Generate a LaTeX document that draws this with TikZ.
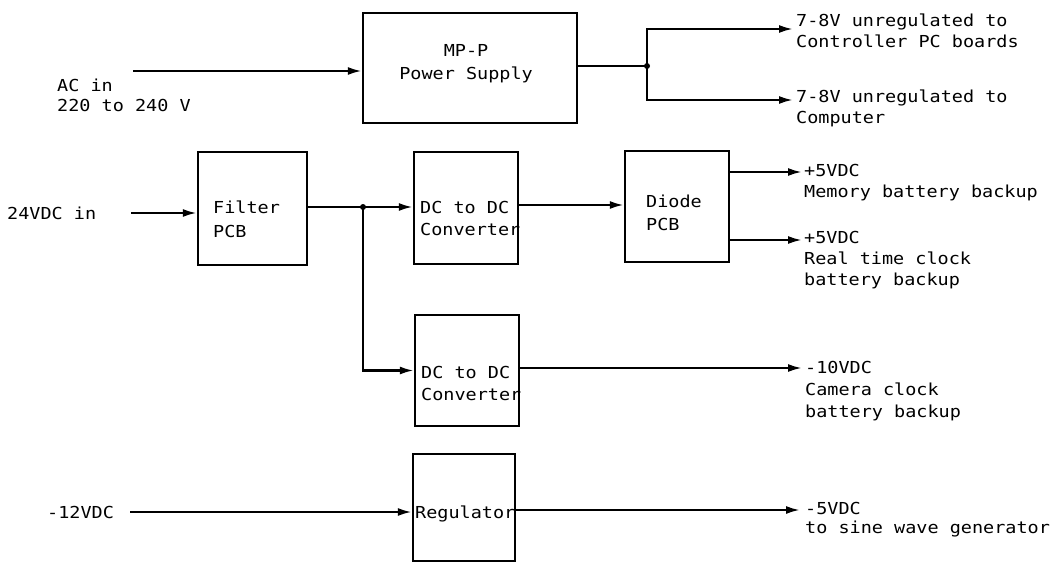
\documentclass[tikz,border=0pt]{standalone}
\usepackage{fontspec}
\newfontfamily\diag[FakeStretch=1.12]{DejaVu Sans Mono}
\usetikzlibrary{arrows.meta}
\newcommand\fs[1]{\diag\fontsize{16.5}{#1}\selectfont}
\begin{document}
\begin{tikzpicture}[x=1pt,y=-1pt,
  every node/.style={font=\fs{21}},
  blk/.style={draw,line width=2.4pt,rectangle,inner sep=0pt},
  lbl/.style={anchor=base west,inner sep=0pt,align=left},
  wire/.style={line width=2.2pt},
  arr/.style={wire,-{Latex[length=14pt,width=8pt]}},
  jdot/.style={circle,fill,inner sep=0pt,minimum size=6pt}]
\fill[white] (0,0) rectangle (1064,564);
\useasboundingbox (0,0) rectangle (1064,564);
% boxes
\node[blk,minimum width=214pt,minimum height=110pt] (ps) at (470,68) {};
\node[blk,minimum width=109pt,minimum height=113pt] (filter) at (252.5,208.5) {};
\node[blk,minimum width=104pt,minimum height=112pt] (conv1) at (466,208) {};
\node[blk,minimum width=104pt,minimum height=111pt] (diode) at (677,206.5) {};
\node[blk,minimum width=104pt,minimum height=111pt] (conv2) at (467,370.5) {};
\node[blk,minimum width=102pt,minimum height=107pt] (reg) at (464,507.5) {};
% box texts
\node[anchor=base,inner sep=0pt,align=center,font=\fs{23}] (pst) at (466,80) {MP-P\\Power Supply};
\node[lbl,font=\fs{24}] (filtert) at (213,237) {Filter\\PCB};
\node[lbl,font=\fs{22}] (conv1t) at (420,235) {DC to DC\\Converter};
\node[lbl,font=\fs{23}] (diodet) at (646,230) {Diode\\PCB};
\node[lbl,font=\fs{22}] (conv2t) at (421,400) {DC to DC\\Converter};
\node[lbl] (regt) at (415,518) {Regulator};
% coordinates
\coordinate (acin) at (133,71);
\coordinate (j1) at (647,66);
\coordinate (o1) at (793,29);
\coordinate (o2) at (793,100);
\coordinate (in24) at (131,213);
\coordinate (j2) at (363,207);
\coordinate (o3) at (802,172);
\coordinate (o4) at (802,240);
\coordinate (o5) at (802,368);
\coordinate (m12) at (130,512);
\coordinate (o6) at (800,510);
% labels
\node[lbl,font=\fs{20}] (lac) at (57,112) {AC in\\220 to 240 V};
\node[lbl] (l1) at (796,48) {7-8V unregulated to\\Controller PC boards};
\node[lbl] (l2) at (796,124) {7-8V unregulated to\\Computer};
\node[lbl] (l24) at (7,219) {24VDC in};
\node[lbl] (l3) at (804,197) {+5VDC\\Memory battery backup};
\node[lbl] (l4) at (804,285) {+5VDC\\Real time clock\\battery backup};
\node[lbl,font=\fs{22}] (l5) at (805,417) {-10VDC\\Camera clock\\battery backup};
\node[lbl] (l12) at (47,518) {-12VDC};
\node[lbl,font=\fs{18.5}] (l6) at (805,533) {-5VDC\\to sine wave generator};
% connectors
\draw[arr] (acin) -- (acin -| ps.west);
\draw[wire] (ps.east |- j1) -- (j1);
\draw[arr] (j1) |- (o1);
\draw[arr] (j1) |- (o2);
\node[jdot] (d1) at (j1) {};
\draw[arr] (in24) -- (in24 -| filter.west);
\draw[wire] (filter.east |- j2) -- (j2);
\draw[arr] (j2) -- (j2 -| conv1.west);
\draw[arr] (j2) |- (conv2.west);
\node[jdot] (d2) at (j2) {};
\draw[arr] (conv1.east |- 0,205) -- (diode.west |- 0,205);
\draw[arr] (o3 -| diode.east) -- (o3);
\draw[arr] (o4 -| diode.east) -- (o4);
\draw[arr] (o5 -| conv2.east) -- (o5);
\draw[arr] (m12) -- (m12 -| reg.west);
\draw[arr] (o6 -| reg.east) -- (o6);
\end{tikzpicture}
\end{document}
